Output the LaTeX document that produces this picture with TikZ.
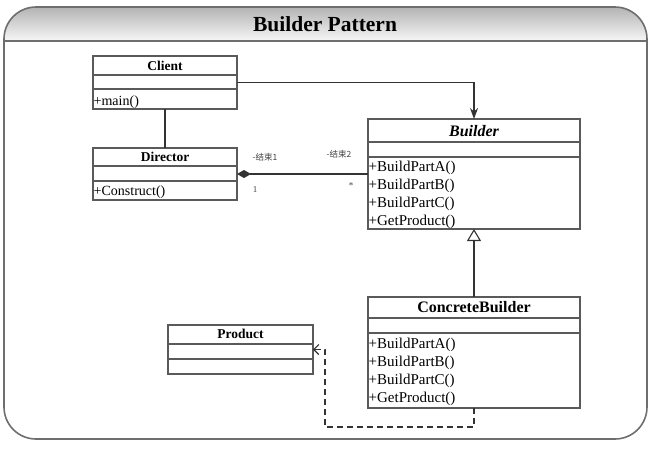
\documentclass[tikz,border=0pt]{standalone}
\usepackage{fontspec}
\setmainfont{Liberation Serif}
\newfontfamily\cjk{Noto Sans CJK SC}
\usetikzlibrary{arrows.meta}
\definecolor{framecol}{HTML}{6E6E6E}
\definecolor{boxline}{HTML}{5A5A5A}
\tikzset{
 cls/.style={draw=boxline, line width=1.3pt, rectangle, anchor=north west, inner sep=0pt, outer sep=0pt},
 sepline/.style={draw=boxline, line width=1.3pt},
 cname/.style={anchor=base, inner sep=0pt, font=\fontsize{13.5}{15}\selectfont\bfseries},
 bigname/.style={anchor=base, inner sep=0pt, font=\fontsize{16}{18}\selectfont\bfseries},
 meth/.style={anchor=base west, inner sep=0pt, font=\fontsize{14}{15}\selectfont},
 bigmeth/.style={anchor=base west, inner sep=0pt, font=\fontsize{15}{16}\selectfont},
 conn/.style={draw=black!80, line width=1.1pt},
 lbl/.style={inner sep=0pt, font=\fontsize{8.5}{10}\selectfont\cjk, text=black!75},
 mult/.style={inner sep=0pt, font=\fontsize{9}{10}\selectfont, text=black!75},
}
\begin{document}
\begin{tikzpicture}[x=1pt,y=-1pt]
\useasboundingbox (0,0) rectangle (650,448);
% frame and header
\begin{scope}
\clip[rounded corners=32pt] (4,7) rectangle (647,439);
\shade[top color=black!30, bottom color=black!3] (4,7) rectangle (647,41);
\end{scope}
\draw[framecol, line width=1.6pt, rounded corners=32pt] (4,7) rectangle (647,439);
\draw[framecol, line width=1.6pt] (4,41) -- (647,41);
\node[anchor=base, inner sep=0pt, font=\fontsize{21.5}{24}\selectfont\bfseries] (title) at (325,31) {Builder Pattern};

% Client
\node[cls, minimum width=144pt, minimum height=53pt] (client) at (93,56) {};
\draw[sepline] (client.west |- 0,75) -- (client.east |- 0,75);
\draw[sepline] (client.west |- 0,89) -- (client.east |- 0,89);
\node[cname] (clientname) at (165,70) {Client};
\node[meth] (clientm1) at (93.5,105) {+main()};

% Director
\node[cls, minimum width=144pt, minimum height=52pt] (director) at (93,148) {};
\draw[sepline] (director.west |- 0,166) -- (director.east |- 0,166);
\draw[sepline] (director.west |- 0,181) -- (director.east |- 0,181);
\node[cname] (directorname) at (165,161) {Director};
\node[meth] (directorm1) at (93.5,195.5) {+Construct()};

% Builder
\node[cls, minimum width=212pt, minimum height=110pt] (builder) at (368,119) {};
\draw[sepline] (builder.west |- 0,142) -- (builder.east |- 0,142);
\draw[sepline] (builder.west |- 0,157) -- (builder.east |- 0,157);
\node[bigname, font=\fontsize{16}{18}\selectfont\bfseries\itshape] (buildername) at (474,136) {Builder};
\node[bigmeth] (bm1) at (368.5,171) {+BuildPartA()};
\node[bigmeth] (bm2) at (368.5,189) {+BuildPartB()};
\node[bigmeth] (bm3) at (368.5,207.5) {+BuildPartC()};
\node[bigmeth] (bm4) at (368.5,225.5) {+GetProduct()};

% ConcreteBuilder
\node[cls, minimum width=212pt, minimum height=111pt] (cb) at (368,297) {};
\draw[sepline] (cb.west |- 0,318) -- (cb.east |- 0,318);
\draw[sepline] (cb.west |- 0,333) -- (cb.east |- 0,333);
\node[bigname] (cbname) at (474,312.5) {ConcreteBuilder};
\node[bigmeth] (cm1) at (368.5,348) {+BuildPartA()};
\node[bigmeth] (cm2) at (368.5,366) {+BuildPartB()};
\node[bigmeth] (cm3) at (368.5,384.5) {+BuildPartC()};
\node[bigmeth] (cm4) at (368.5,402.5) {+GetProduct()};

% Product
\node[cls, minimum width=145pt, minimum height=49pt] (product) at (168,325) {};
\draw[sepline] (product.west |- 0,344) -- (product.east |- 0,344);
\draw[sepline] (product.west |- 0,359) -- (product.east |- 0,359);
\node[cname] (productname) at (240.5,338.5) {Product};

% connectors
\draw[conn] (client.south) -- (director.north);
\draw[conn, -{Stealth[length=11pt,width=8pt]}] (client.east) -| (builder.north);
\draw[conn, {Diamond[length=14pt,width=8pt]}-] (director.east) -- (builder.west);
\draw[conn, -{Triangle[open,length=12pt,width=14pt,fill=white]}] (cb.north) -- (builder.south);
\coordinate (dep) at (325,427);
\draw[conn, dash pattern=on 6pt off 4pt, -{Straight Barb[length=5pt,width=10pt]}] (cb.south) |- (dep) |- (product.east);

% association labels
\node[lbl] (l1) at (265,157) {-结束1};
\node[lbl] (l2) at (339,154.5) {-结束2};
\node[mult] (m1) at (255,190) {1};
\node[mult] (m2) at (351,186) {*};
\end{tikzpicture}
\end{document}
